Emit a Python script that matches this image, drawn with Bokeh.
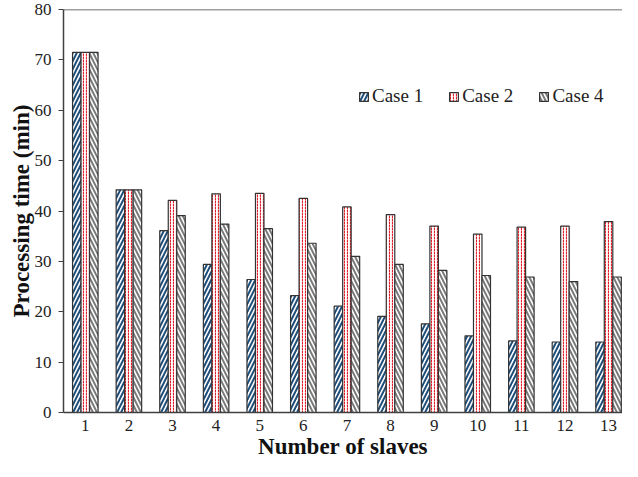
from bokeh.plotting import figure
from bokeh.models import Range1d, FixedTicker, Span, Legend, LegendItem
from bokeh.embed import file_html
from bokeh.resources import INLINE

slaves = [1, 2, 3, 4, 5, 6, 7, 8, 9, 10, 11, 12, 13]
case1 = [71.5, 44.2, 36.1, 29.4, 26.4, 23.2, 21.1, 19.1, 17.6, 15.2, 14.2, 14.0, 14.0]
case2 = [71.5, 44.2, 42.1, 43.4, 43.5, 42.5, 40.8, 39.3, 37.0, 35.4, 36.8, 37.0, 37.9]
case4 = [71.5, 44.2, 39.1, 37.4, 36.5, 33.6, 31.0, 29.4, 28.2, 27.2, 26.9, 26.0, 26.9]
series_names = ["Case 1", "Case 2", "Case 4"]
y_ticks = [0, 10, 20, 30, 40, 50, 60, 70, 80]

FONT = "Liberation Serif"

p = figure(width=622, height=461, output_backend="svg", toolbar_location=None,
           x_range=Range1d(0.5, 13.32), y_range=Range1d(0, 80),
           min_border_left=63, min_border_right=0, min_border_top=9, min_border_bottom=45)
p.outline_line_color = None
p.xgrid.visible = False
p.ygrid.visible = False
p.background_fill_color = "white"
p.border_fill_color = "white"

bw = 0.195
r1 = p.vbar(x=[s - bw for s in slaves], top=case1, width=bw, fill_color="white",
            line_color="#333333", line_width=1.2, hatch_pattern="/", hatch_color="#1f4e79",
            hatch_weight=2, hatch_scale=8)
r2 = p.vbar(x=slaves, top=case2, width=bw, fill_color="white",
            line_color="#333333", line_width=1.2, hatch_pattern=":", hatch_color="#e0202a",
            hatch_weight=1.2, hatch_scale=3)
r3 = p.vbar(x=[s + bw for s in slaves], top=case4, width=bw, fill_color="white",
            line_color="#333333", line_width=1.2, hatch_pattern="\\", hatch_color="#7a7a7a",
            hatch_weight=2, hatch_scale=8)

top_line = Span(location=80, dimension="width", line_color="#404040", line_width=1.5)
p.add_layout(top_line)

# axes
p.yaxis.ticker = FixedTicker(ticks=y_ticks)
p.yaxis.minor_tick_line_color = None
p.yaxis.major_tick_in = 0
p.yaxis.major_tick_out = 5
p.yaxis.axis_label = "Processing time (min)"
p.xaxis.ticker = FixedTicker(ticks=slaves)
p.xaxis.minor_tick_line_color = None
p.xaxis.major_tick_in = 0
p.xaxis.major_tick_out = 0
p.xaxis.axis_label = "Number of slaves"
p.xaxis.major_label_standoff = 7
p.xaxis.axis_label_standoff = 0
p.yaxis.major_label_standoff = 7
p.yaxis.axis_label_standoff = -2
for ax in (p.xaxis[0], p.yaxis[0]):
    ax.axis_line_color = "#404040"
    ax.axis_line_width = 1.5
    ax.major_tick_line_color = "#404040"
    ax.major_label_text_font = FONT
    ax.major_label_text_font_size = "17px"
    ax.major_label_text_color = "#222222"
    ax.axis_label_text_font = FONT
    ax.axis_label_text_font_size = "23px"
    ax.axis_label_text_font_style = "bold"
    ax.axis_label_text_color = "#111111"

legend = Legend(items=[LegendItem(label=series_names[0], renderers=[r1]),
                       LegendItem(label=series_names[1], renderers=[r2]),
                       LegendItem(label=series_names[2], renderers=[r3])],
                orientation="horizontal", location=(295, 305))
legend.background_fill_alpha = 0
legend.border_line_color = None
legend.label_text_font = FONT
legend.label_text_font_size = "19px"
legend.label_text_color = "#222222"
legend.glyph_width = 11
legend.glyph_height = 11
legend.label_standoff = 3
legend.spacing = 25
legend.padding = 2
legend.margin = 0
p.add_layout(legend)

open("out.html", "w").write(file_html(p, INLINE))
